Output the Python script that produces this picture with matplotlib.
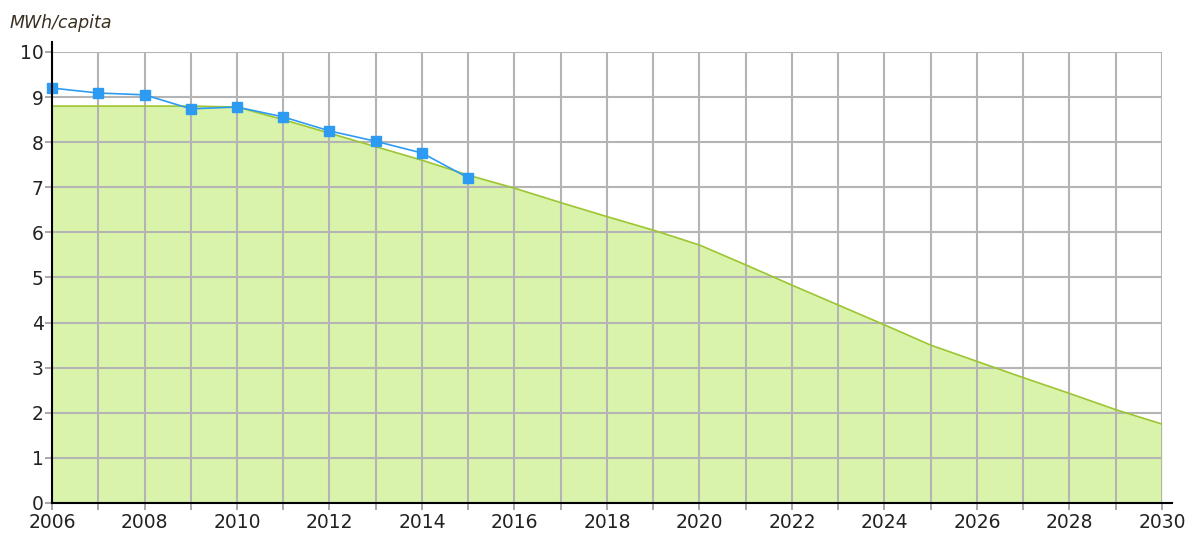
import numpy as np
import matplotlib.pyplot as plt

# measured consumption (blue)
years_actual = [2006, 2007, 2008, 2009, 2010, 2011, 2012, 2013, 2014, 2015]
actual = [9.20, 9.09, 9.05, 8.74, 8.78, 8.56, 8.25, 8.02, 7.76, 7.21]

# target path (green area)
years_target = list(range(2006, 2031))
target = [8.80, 8.80, 8.80, 8.80, 8.78, 8.50, 8.20, 7.90, 7.60, 7.27,
          6.98, 6.66, 6.35, 6.05, 5.72, 5.28, 4.83, 4.39, 3.95, 3.50,
          3.14, 2.78, 2.43, 2.07, 1.75]

x_ticks = list(range(2006, 2031, 2))
y_ticks = list(range(0, 11))

plt.rcParams['font.family'] = ['DejaVu Sans']

fig = plt.figure(figsize=(11.96, 5.36), dpi=100)
ax = fig.add_axes([0.0435, 0.0616, 0.928, 0.8414])

ax.fill_between(years_target, target, 0, color='#d9f3aa', lw=0, zorder=1)
ax.plot(years_target, target, color='#9cc531', lw=1.2, zorder=3)
ax.plot(years_actual, actual, color='#2e9bf2', lw=1.2, marker='s',
        markersize=7.5, zorder=4, clip_on=False)

ax.set_xlim(2006, 2030)
ax.set_ylim(0, 10)
ax.set_xticks(x_ticks)
ax.set_xticks(range(2006, 2031), minor=True)
ax.set_yticks(y_ticks)
ax.grid(True, which='both', color='#b4b4b4', lw=1.5, zorder=2)
ax.set_axisbelow(False)
for gl in ax.get_xgridlines() + ax.get_ygridlines():
    gl.set_zorder(2)

ax.spines['top'].set_visible(False)
ax.spines['right'].set_visible(False)
ax.spines['left'].set_bounds(0, 10.22)
ax.spines['bottom'].set_bounds(2006, 2030.22)
for s in ('left', 'bottom'):
    ax.spines[s].set_color('black')
    ax.spines[s].set_linewidth(1.5)
    ax.spines[s].set_zorder(5)

ax.tick_params(axis='both', which='both', length=5, width=1.2,
               color='#999999', labelsize=13.5, labelcolor='#222222')
ax.tick_params(axis='x', pad=2)
ax.tick_params(axis='y', pad=1)

fig.text(0.008, 0.957, 'MWh/capita', fontsize=12.5, style='italic',
         color='#3a3020', ha='left', va='center')

fig.savefig('out.png', dpi=100)
